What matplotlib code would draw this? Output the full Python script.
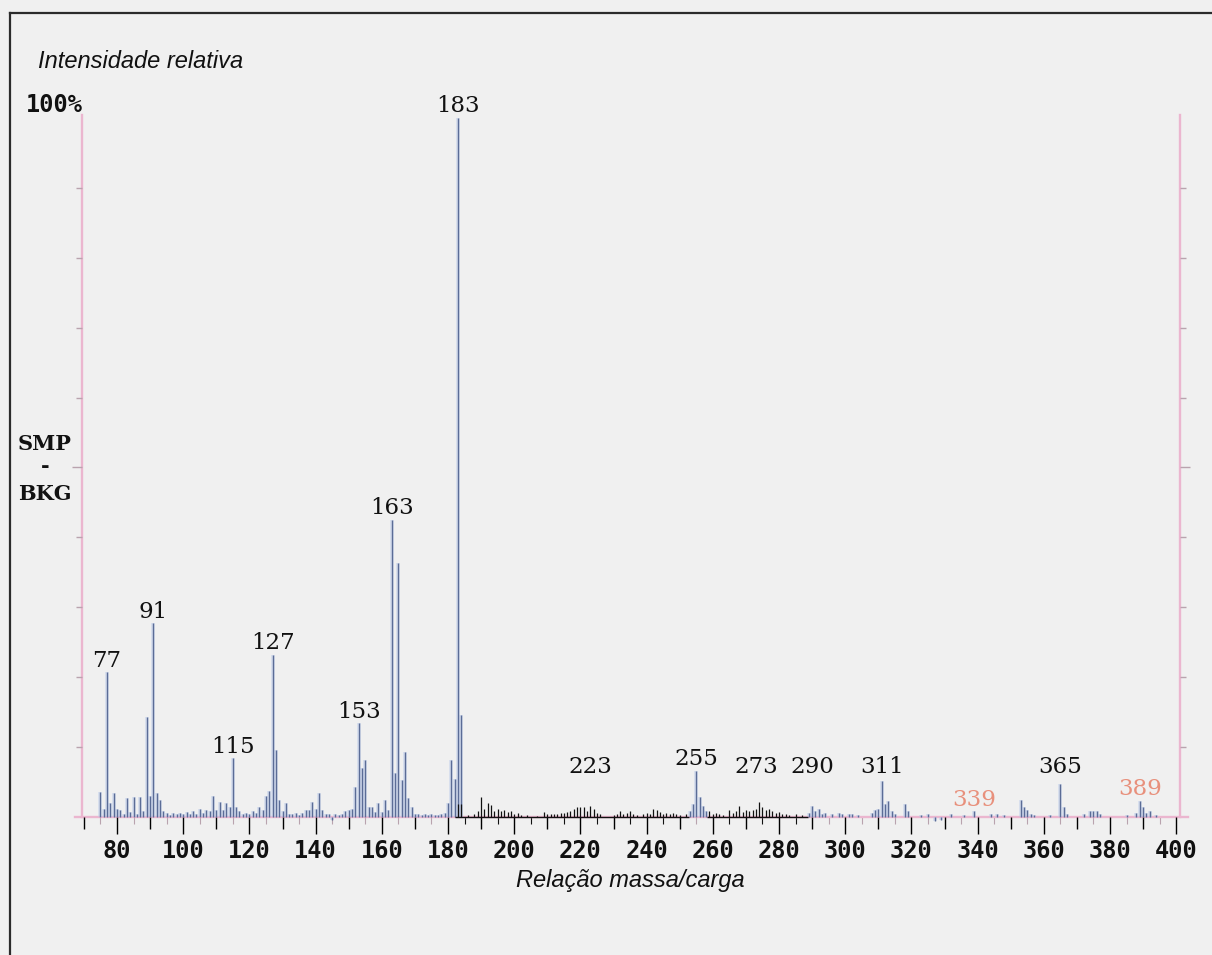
import numpy as np
import matplotlib
matplotlib.use('Agg')
import matplotlib.pyplot as plt
from matplotlib.lines import Line2D

# SMP - BKG spectrum, intensities in % of the base peak (m/z 183)
mz_main = np.arange(75, 185)
int_main = [3.6, 1.2, 20.7, 2.0, 3.4,
            1.2, 1.0, 0.5, 2.7, 0.7, 2.8, 0.5, 2.8, 0.8, 14.3,
            3.0, 27.7, 3.4, 2.4, 0.8, 0.6, 0.3, 0.6, 0.4, 0.6,
            0.4, 0.7, 0.5, 0.9, 0.5, 1.1, 0.6, 1.0, 0.8, 3.0,
            1.0, 2.2, 1.0, 2.0, 1.5, 8.4, 1.4, 0.8, 0.4, 0.6,
            0.4, 0.9, 0.6, 1.5, 1.0, 3.0, 3.7, 23.2, 9.6, 2.4,
            0.8, 2.0, 0.5, 0.4, 0.6, 0.3, 0.6, 1.0, 1.0, 2.2,
            1.2, 3.4, 1.0, 0.5, 0.4, -0.5, 0.5, 0.3, 0.5, 0.8,
            1.0, 1.2, 4.3, 13.4, 7.0, 8.1, 1.5, 1.4, 0.7, 2.0,
            0.7, 2.4, 1.0, 42.5, 6.3, 36.3, 5.3, 9.3, 2.7, 1.4,
            0.5, 0.4, 0.3, 0.4, 0.3, 0.5, 0.3, 0.3, 0.4, 0.6,
            2.0, 8.1, 5.5, 100.0, 14.6]

mz_mid = [253, 254, 255, 256, 257, 258]
int_mid = [0.8, 1.9, 6.6, 2.8, 1.6, 0.8]

mz_high = [289, 290, 291, 292, 293, 294, 296, 298, 299, 301,
           302, 304, 308, 309, 310, 311, 312, 313, 314, 315,
           318, 319, 323, 325, 327, 329, 332, 336, 339, 344,
           346, 348, 353, 354, 355, 356, 357, 362, 365, 366,
           367, 372, 374, 375, 376, 377, 385, 388, 389, 390,
           391, 392, 394]
int_high = [0.6, 1.6, 0.8, 1.2, 0.5, 0.6, 0.5, 0.6, 0.4, 0.5,
            0.4, 0.3, 0.6, 1.0, 1.1, 5.2, 1.9, 2.3, 0.8, 0.4,
            1.9, 0.8, 0.3, 0.4, -0.6, -0.5, 0.4, 0.3, 0.8, 0.4,
            0.5, 0.3, 2.5, 1.4, 1.0, 0.5, 0.3, 0.3, 4.7, 1.5,
            0.4, 0.4, 0.9, 0.9, 0.8, 0.5, 0.3, 0.6, 2.3, 1.4,
            0.6, 0.8, 0.3]

# part of the trace drawn in black
mz_black = [183, 184, 186, 188, 189, 190, 191, 192, 193, 194,
            195, 196, 197, 198, 199, 200, 201, 202, 204, 207,
            209, 210, 211, 212, 213, 214, 215, 216, 217, 218,
            219, 220, 221, 222, 223, 224, 225, 226, 230, 231,
            232, 233, 234, 235, 236, 237, 239, 240, 241, 242,
            243, 244, 245, 246, 247, 248, 249, 250, 252, 259,
            260, 261, 262, 263, 265, 266, 267, 268, 269, 270,
            271, 272, 273, 274, 275, 276, 277, 278, 279, 280,
            281, 282, 283, 285, 287]
int_black = [1.9, 1.9, 0.3, 0.5, 0.8, 2.8, 1.2, 2.0, 1.7, 0.9,
             1.1, 0.8, 1.0, 0.7, 0.8, 0.5, 0.6, 0.3, 0.3, 0.2,
             0.7, 0.5, 0.4, 0.5, 0.4, 0.6, 0.6, 0.7, 0.9, 1.1,
             1.4, 1.4, 1.4, 0.9, 1.6, 1.2, 0.6, 0.4, 0.3, 0.5,
             0.8, 0.4, 0.6, 0.8, 0.5, 0.3, 0.4, 0.6, 0.5, 1.2,
             1.0, 0.7, 0.5, 0.6, 0.4, 0.6, 0.4, 0.3, 0.4, 0.8,
             0.4, 0.6, 0.5, 0.3, 1.0, 0.6, 0.8, 1.6, 0.7, 1.0,
             0.8, 1.0, 1.2, 2.2, 1.4, 1.0, 1.2, 0.8, 0.6, 0.7,
             0.4, 0.5, 0.3, 0.4, 0.3]
black_spans = [(182.2, 252.8), (258.2, 288.8)]

label_mz = [77, 91, 115, 127, 153, 163, 183, 223, 255, 273, 290, 311, 339, 365, 389]
faded_labels = [339, 389]

x_major = list(range(80, 401, 20))

W, H = 1212, 955
BG = '#f0f0f0'
PINK = '#ebb6cf'
TICK = '#b9a3ae'
HALO = '#bccaea'
CORE = '#5b6c96'
INK = '#111111'


def in_black(x):
    return any(a <= x <= b for a, b in black_spans)


fig = plt.figure(figsize=(W / 100, H / 100), dpi=100, facecolor=BG)
ax = fig.add_axes([0, 0, 1, 1])
ax.set_facecolor('none')

# calibration of the scan: m/z 80 at x=117px, 3.31 px per unit; 0% at y=817px, 6.99 px per %
pxm, pxp = 3.31, 6.99
ax.set_xlim(80 - 117 / pxm, 80 + (W - 117) / pxm)
ax.set_ylim(-(H - 817) / pxp, 817 / pxp)

ax.spines['top'].set_visible(False)
ax.spines['bottom'].set_position(('data', 0))
ax.spines['bottom'].set_bounds(67.3, 403.6)
ax.spines['left'].set_position(('data', 69.5))
ax.spines['left'].set_bounds(0, 100.4)
ax.spines['right'].set_position(('data', 401))
ax.spines['right'].set_bounds(0, 100.4)
for s in ('bottom', 'left', 'right'):
    ax.spines[s].set_color(PINK)
    ax.spines[s].set_linewidth(1.7)
    ax.spines[s].set_zorder(1)

# y axes: ticks every 10 %
ax.set_yticks([50])
ax.set_yticks([v for v in range(10, 100, 10) if v != 50], minor=True)
ax.tick_params(axis='y', which='both', left=True, right=True,
               labelleft=False, labelright=False, direction='out', color=TICK)
ax.tick_params(axis='y', which='major', length=7, width=1)
ax.tick_params(axis='y', which='minor', length=4.5, width=1)

# x axis: 20s labelled, 10s medium, 5s short
ax.set_xticks(x_major, labels=[str(v) for v in x_major])
x_minor = [v for v in range(70, 401, 10) if v % 20]
ax.set_xticks(x_minor, minor=True)
ax.tick_params(axis='x', which='major', length=12, width=1, pad=3.5,
               labelsize=17, labelcolor=INK, direction='out')
ax.tick_params(axis='x', which='minor', length=8.5, width=1, direction='out')
for lab in ax.get_xticklabels():
    lab.set_fontfamily('DejaVu Sans Mono')
    lab.set_fontweight('bold')
for tk, v in zip(ax.xaxis.get_major_ticks(), x_major):
    tk.tick1line.set_color(INK if in_black(v) else TICK)
for tk, v in zip(ax.xaxis.get_minor_ticks(), x_minor):
    tk.tick1line.set_color(INK if in_black(v) else TICK)
x_five = [v for v in range(70, 401, 5) if v % 10]
ax.vlines(x_five, -1.0, 0, colors=[INK if in_black(v) else TICK for v in x_five],
          lw=0.8, zorder=1)

# peaks
for mz, inten in ((mz_main, int_main), (mz_mid, int_mid), (mz_high, int_high)):
    ax.vlines(mz, 0, inten, colors=HALO, lw=2.6, alpha=0.55, zorder=2)
    ax.vlines(mz, 0, inten, colors=CORE, lw=1.0, zorder=3)
for a, b in black_spans:
    ax.hlines(0, a, b, colors=INK, lw=1.0, zorder=4)
ax.vlines(mz_black, 0, int_black, colors=INK, lw=0.9, zorder=4)

# peak labels
height = {}
for mz, inten in ((mz_main, int_main), (mz_mid, int_mid), (mz_high, int_high), (mz_black, int_black)):
    for m, v in zip(mz, inten):
        height[int(m)] = max(height.get(int(m), 0), v)
for m in label_mz:
    if m in faded_labels:
        y, c = height[m] + 0.8, '#e8907c'
    else:
        y, c = max(height[m], 5.5) + 0.8, INK
    ax.text(m, y, str(m), ha='center', va='baseline', family='DejaVu Serif',
            size=16.5, color=c, zorder=5)

# titles and side text
fig.text(38 / W, 1 - 68 / H, 'Intensidade relativa', ha='left', va='baseline',
         family='Liberation Sans', style='italic', size=17, color=INK)
fig.text(630 / W, 1 - 887 / H, 'Relação massa/carga', ha='center', va='baseline',
         family='Liberation Sans', style='italic', size=17, color=INK)
fig.text(83 / W, 1 - 112 / H, '100%', ha='right', va='baseline',
         family='DejaVu Sans Mono', weight='bold', size=17, color=INK)
for txt, yb in (('SMP', 450), ('-', 472), ('BKG', 500)):
    fig.text(45 / W, 1 - yb / H, txt, ha='center', va='baseline',
             family='DejaVu Serif', weight='bold', size=15, color=INK)

# scan frame
fig.add_artist(Line2D([10 / W, 1], [1 - 13 / H, 1 - 13 / H], color='#2b2b2b', lw=1.6))
fig.add_artist(Line2D([10 / W, 10 / W], [0, 1 - 13 / H], color='#2b2b2b', lw=1.6))

fig.savefig('out.png', dpi=100, facecolor=BG)
